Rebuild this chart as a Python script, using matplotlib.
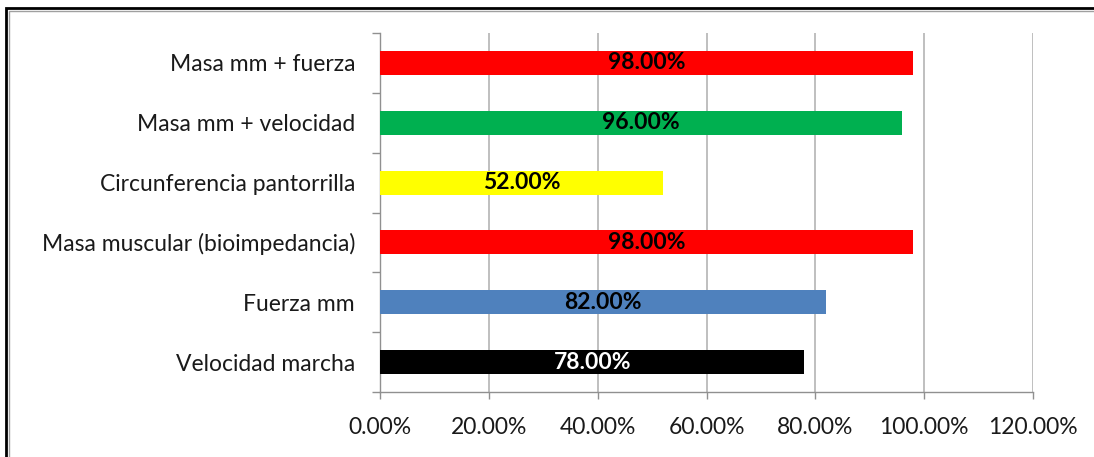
import numpy as np
import matplotlib.pyplot as plt
from matplotlib.patches import Rectangle
from matplotlib.ticker import FixedLocator, PercentFormatter

plt.rcParams['font.family'] = ['Lato', 'DejaVu Sans']

categories = ['Velocidad marcha', 'Fuerza mm', 'Masa muscular (bioimpedancia)',
              'Circunferencia pantorrilla', 'Masa mm + velocidad', 'Masa mm + fuerza']
values = [0.78, 0.82, 0.98, 0.52, 0.96, 0.98]
colors = ['#000000', '#4F81BD', '#FF0000', '#FFFF00', '#00B050', '#FF0000']
label_colors = ['white', 'black', 'black', 'black', 'black', 'black']
x_ticks = [0, 0.2, 0.4, 0.6, 0.8, 1.0, 1.2]

fig = plt.figure(figsize=(10.94, 4.57), dpi=100)
ax = fig.add_axes([380 / 1094, 1 - 392 / 457, 653 / 1094, 359 / 457])

# outer frame of the chart area
fig.patches.append(Rectangle((6 / 1094, -0.1), 1.2, 1 - 8 / 457 + 0.1,
                             transform=fig.transFigure, fill=False,
                             edgecolor='black', linewidth=2))
fig.patches.append(Rectangle((9 / 1094, -0.1), 1.2, 1 - 11 / 457 + 0.1,
                             transform=fig.transFigure, fill=False,
                             edgecolor='#A0A0A0', linewidth=1))

y = np.arange(len(categories))
bars = ax.barh(y, values, height=0.4, color=colors, zorder=3)

for bar, v, c in zip(bars, values, label_colors):
    ax.text(v / 2, bar.get_y() + bar.get_height() / 2, f'{v * 100:.2f}%',
            ha='center', va='center', fontsize=16.5, fontweight='bold',
            color=c, zorder=4)

ax.set_xlim(0, 1.2)
ax.set_ylim(-0.5, len(categories) - 0.5)
ax.set_xticks(x_ticks)
ax.xaxis.set_major_formatter(PercentFormatter(1.0, decimals=2))
ax.set_yticks(y)
ax.set_yticklabels(categories)
ax.yaxis.set_minor_locator(FixedLocator(np.arange(-0.5, len(categories), 1)))

ax.tick_params(axis='y', which='major', length=0, pad=18, labelsize=16.5,
               labelcolor='#1a1a1a')
ax.tick_params(axis='y', which='minor', length=5.5, color='#909090', width=1)
ax.tick_params(axis='x', length=5, color='#909090', width=1, pad=13,
               labelsize=16.5, labelcolor='#1a1a1a')

ax.grid(axis='x', color='#B4B4B4', linewidth=1.2, zorder=0)
ax.set_axisbelow(True)
for side in ['top', 'right']:
    ax.spines[side].set_visible(False)
for side in ['left', 'bottom']:
    ax.spines[side].set_color('#909090')
    ax.spines[side].set_linewidth(1)

fig.savefig('out.png', dpi=100)
